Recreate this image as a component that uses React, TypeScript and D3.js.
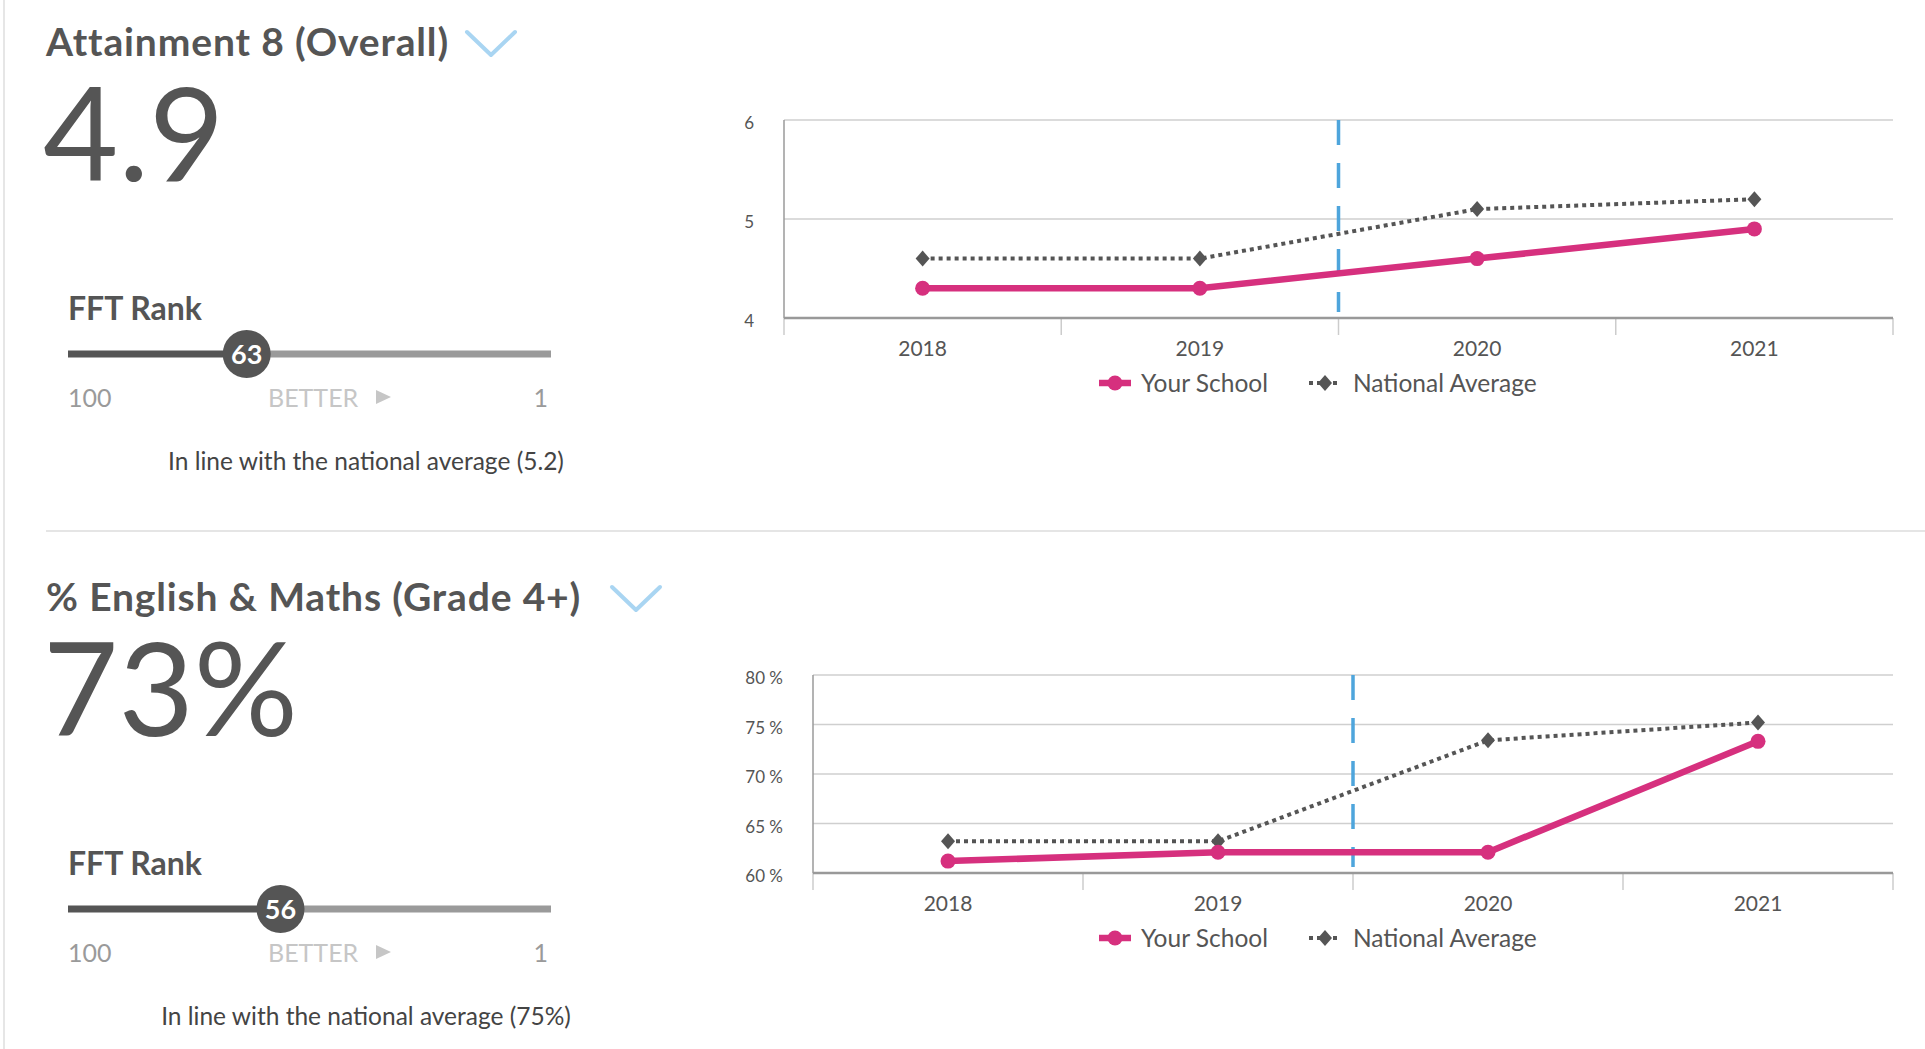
import React, { useEffect } from 'react';
import * as d3 from 'd3';

// ---- data ----
const years = ['2018', '2019', '2020', '2021'];
const attSchool = [4.3, 4.3, 4.6, 4.9];
const attNational = [4.6, 4.6, 5.1, 5.2];
const attTicks = [4, 5, 6];
const emSchool = [61.2, 62.1, 62.1, 73.3];
const emNational = [63.2, 63.2, 73.4, 75.2];
const emTicks = [60, 65, 70, 75, 80];
const ranks = [63, 56];
const rankDomain = [100, 0];
const titles = ['Attainment 8 (Overall)', '% English & Maths (Grade 4+)'];
const headlines = ['4.9', '73%'];
const notes = ['In line with the national average (5.2)', 'In line with the national average (75%)'];
const legendLabels = ['Your School', 'National Average'];
const rankEndLabels = ['100', '1'];

const FONT = 'Lato, "Open Sans", sans-serif';
const DARK = '#555555';
const PINK = '#d6307e';
const BLUE_DASH = '#4ea5dc';
const CHEVRON = '#a9d5f2';

type SectionProps = {
  idx: number;
  dy: number;
  chevronX: number;
  plotLeft: number;
  yDomain: number[];
  ticks: number[];
  tickFmt: (v: number) => string;
  school: number[];
  national: number[];
};

function Section(p: SectionProps) {
  const { idx, dy } = p;
  const rank = ranks[idx];
  const rx = d3.scaleLinear().domain(rankDomain).range([68, 551]);
  const sliderY = 354 + dy;
  const knobX = rx(rank);

  const plotRight = 1893;
  const top = 120 + dy;
  const bottom = 318 + dy;
  const x = d3.scaleBand<string>().domain(years).range([p.plotLeft, plotRight]);
  const y = d3.scaleLinear().domain(p.yDomain).range([bottom, top]);
  const cx = (yr: string) => (x(yr) as number) + x.bandwidth() / 2;
  const boundaries = [...years.map((yr) => x(yr) as number), plotRight];

  const line = d3
    .line<number>()
    .x((_, i) => cx(years[i]))
    .y((v) => y(v));

  const dashX = x('2020') as number;
  const legY = 383 + dy;

  const diamond = (px: number, py: number, w = 7, h = 8) =>
    `M${px},${py - h}L${px + w},${py}L${px},${py + h}L${px - w},${py}Z`;

  return (
    <g>
      {/* title */}
      <text
        x={46}
        y={56 + dy}
        fontSize={39}
        fontWeight={700}
        letterSpacing={0.85}
        fill={DARK}
        fontFamily={FONT}
      >
        {titles[idx]}
      </text>
      <polyline
        points={`${p.chevronX},${32 + dy} ${p.chevronX + 24},${55 + dy} ${p.chevronX + 48},${32 + dy}`}
        fill="none"
        stroke={CHEVRON}
        strokeWidth={4}
        strokeLinecap="round"
        strokeLinejoin="round"
      />
      {/* headline */}
      <text x={43} y={181 + dy} fontSize={130} fontWeight={400} fill={DARK} fontFamily={FONT}>
        {headlines[idx]}
      </text>
      {/* FFT rank */}
      <text x={68} y={320 + dy} fontSize={32} fontWeight={700} fill={DARK} fontFamily={FONT}>
        FFT Rank
      </text>
      <line x1={rx(100)} x2={knobX} y1={sliderY} y2={sliderY} stroke={DARK} strokeWidth={7} />
      <line x1={knobX} x2={rx(0)} y1={sliderY} y2={sliderY} stroke="#9a9a9a" strokeWidth={7} />
      <circle cx={knobX} cy={sliderY} r={24} fill={DARK} />
      <text
        x={knobX}
        y={sliderY + 9.5}
        textAnchor="middle"
        fontSize={27}
        fontWeight={700}
        fill="#ffffff"
        fontFamily={FONT}
      >
        {rank}
      </text>
      <text x={rx(100)} y={407 + dy} fontSize={25} fill="#9a9a9a" fontFamily={FONT}>
        {rankEndLabels[0]}
      </text>
      <text x={268} y={407 + dy} fontSize={25} fill="#c6c6c6" fontFamily={FONT}>
        BETTER
      </text>
      <path d={`M376,${390 + dy}L391,${397 + dy}L376,${404 + dy}Z`} fill="#c6c6c6" />
      <text x={548} y={407 + dy} textAnchor="end" fontSize={25} fill="#9a9a9a" fontFamily={FONT}>
        {rankEndLabels[1]}
      </text>
      <text x={366} y={470 + dy} textAnchor="middle" fontSize={24.5} fill="#444" fontFamily={FONT}>
        {notes[idx]}
      </text>

      {/* chart grid */}
      {p.ticks.map((t) => (
        <g key={t}>
          {t !== p.yDomain[0] && (
            <line x1={p.plotLeft} x2={plotRight} y1={y(t)} y2={y(t)} stroke="#cfcfcf" strokeWidth={1.6} />
          )}
          <text
            x={p.plotLeft - 30}
            y={y(t) + 5}
            textAnchor="end"
            dominantBaseline="middle"
            fontSize={17}
            fill={DARK}
            fontFamily={FONT}
          >
            {p.tickFmt(t)}
          </text>
        </g>
      ))}
      {boundaries.map((bx, i) => (
        <line key={i} x1={bx} x2={bx} y1={bottom} y2={bottom + 17} stroke="#cccccc" strokeWidth={1.5} />
      ))}
      <line x1={p.plotLeft} x2={p.plotLeft} y1={top} y2={bottom} stroke="#9a9a9a" strokeWidth={1.5} />
      <line x1={p.plotLeft} x2={plotRight} y1={bottom} y2={bottom} stroke="#999" strokeWidth={2.5} />
      {years.map((yr) => (
        <text
          key={yr}
          x={cx(yr)}
          y={355.5 + dy}
          textAnchor="middle"
          fontSize={21}
          fill={DARK}
          fontFamily={FONT}
        >
          {yr}
        </text>
      ))}
      {/* divider */}
      <line
        x1={dashX}
        x2={dashX}
        y1={top}
        y2={bottom - 6}
        stroke={BLUE_DASH}
        strokeWidth={3.5}
        strokeDasharray="25,18"
      />
      {/* national */}
      <path d={line(p.national) || ''} fill="none" stroke={DARK} strokeWidth={4} strokeDasharray="4,4" />
      {p.national.map((v, i) => (
        <path key={i} d={diamond(cx(years[i]), y(v))} fill={DARK} />
      ))}
      {/* school */}
      <path d={line(p.school) || ''} fill="none" stroke={PINK} strokeWidth={6.5} strokeLinejoin="round" />
      {p.school.map((v, i) => (
        <circle key={i} cx={cx(years[i])} cy={y(v)} r={7.5} fill={PINK} />
      ))}
      {/* legend */}
      <line x1={1099} x2={1131} y1={legY} y2={legY} stroke={PINK} strokeWidth={6.5} />
      <circle cx={1115} cy={legY} r={7.5} fill={PINK} />
      <text x={1141} y={legY + 8.5} fontSize={24.5} fill={DARK} fontFamily={FONT}>
        {legendLabels[0]}
      </text>
      <line x1={1309} x2={1341} y1={legY} y2={legY} stroke={DARK} strokeWidth={4} strokeDasharray="4,4" />
      <path d={diamond(1325, legY)} fill={DARK} />
      <text x={1353} y={legY + 8.5} fontSize={24.5} fill={DARK} fontFamily={FONT}>
        {legendLabels[1]}
      </text>
    </g>
  );
}

export default function App() {
  useEffect(() => {
    document.body.style.margin = '0';
    document.body.style.overflow = 'hidden';
  }, []);
  return (
    <svg
      width={1925}
      height={1049}
      style={{ position: 'fixed', left: 0, top: 0, background: '#fff' }}
    >
      <rect x={0} y={0} width={1925} height={1049} fill="#fff" />
      <line x1={4} x2={4} y1={0} y2={1049} stroke="#e6e6e6" strokeWidth={2} />
      <line x1={46} x2={1925} y1={531} y2={531} stroke="#dcdcdc" strokeWidth={1.5} />
      <Section
        idx={0}
        dy={0}
        chevronX={467}
        plotLeft={784}
        yDomain={[4, 6]}
        ticks={attTicks}
        tickFmt={(v) => String(v)}
        school={attSchool}
        national={attNational}
      />
      <Section
        idx={1}
        dy={555}
        chevronX={612}
        plotLeft={813}
        yDomain={[60, 80]}
        ticks={emTicks}
        tickFmt={(v) => `${v} %`}
        school={emSchool}
        national={emNational}
      />
    </svg>
  );
}
